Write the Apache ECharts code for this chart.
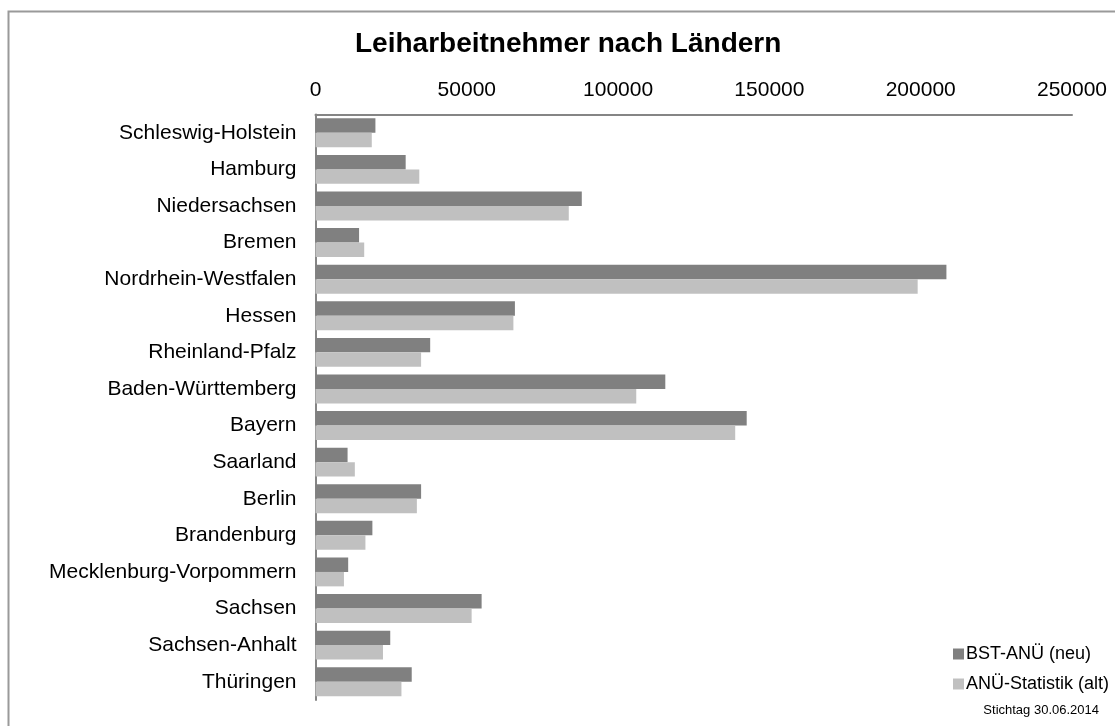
<!DOCTYPE html>
<html>
<head>
<meta charset="utf-8">
<script src="https://cdn.jsdelivr.net/npm/echarts@6/dist/echarts.min.js"></script>
<style>
html,body{margin:0;padding:0;background:#fff;}
#chart{width:1115px;height:726px;}
</style>
</head>
<body>
<div id="chart"></div>
<script>
const categories = ["Schleswig-Holstein","Hamburg","Niedersachsen","Bremen","Nordrhein-Westfalen","Hessen","Rheinland-Pfalz","Baden-Württemberg","Bayern","Saarland","Berlin","Brandenburg","Mecklenburg-Vorpommern","Sachsen","Sachsen-Anhalt","Thüringen"];
const bstNeu = [19800,29800,88000,14400,208500,65900,37900,115600,142500,10600,34900,18800,10800,54900,24700,31800];
const anueAlt = [18600,34300,83700,16100,199000,65400,34900,106000,138700,13000,33500,16500,9400,51600,22300,28400];
const xTicks = [0,50000,100000,150000,200000,250000];
const seriesNames = ["BST-ANÜ (neu)","ANÜ-Statistik (alt)"];
const titleText = "Leiharbeitnehmer nach Ländern";
const noteText = "Stichtag 30.06.2014";

const chart = echarts.init(document.getElementById('chart'), null, {renderer:'canvas'});
const font = 'Liberation Sans, Arial, sans-serif';
chart.setOption({
  animation:false,
  backgroundColor:'#ffffff',
  textStyle:{fontFamily:font},
  title:{text:titleText,left:350,top:25,itemGap:0,
    textStyle:{fontFamily:font,fontSize:28,fontWeight:'bold',color:'#000'}},
  legend:{orient:'vertical',left:948,top:640,itemWidth:11,itemHeight:11,itemGap:12,
    icon:'rect',
    textStyle:{fontFamily:font,fontSize:18,color:'#000',padding:[0,0,0,-3],lineHeight:18},
    data:seriesNames},
  grid:{left:315.5,right:43,top:114.5,bottom:26,containLabel:false},
  xAxis:{type:'value',position:'top',min:xTicks[0],max:xTicks[xTicks.length-1],interval:xTicks[1]-xTicks[0],
    axisLine:{show:true,lineStyle:{color:'#858585',width:2}},
    axisTick:{show:false},splitLine:{show:false},
    axisLabel:{fontFamily:font,fontSize:21,color:'#000',margin:14,formatter:function(v){return String(v);}}},
  yAxis:{type:'category',data:categories,inverse:true,
    axisLine:{show:true,lineStyle:{color:'#858585',width:2}},
    axisTick:{show:false},
    axisLabel:{fontFamily:font,fontSize:21,color:'#000',margin:19}},
  series:[
    {name:seriesNames[0],type:'bar',data:bstNeu,barGap:'0%',barCategoryGap:'21%',
      itemStyle:{color:'#808080'}},
    {name:seriesNames[1],type:'bar',data:anueAlt,barGap:'0%',barCategoryGap:'21%',
      itemStyle:{color:'#c0c0c0'}}
  ],
  graphic:[
    {type:'rect',left:6,top:9,shape:{width:1120,height:730},
      style:{fill:'none',stroke:'#9a9a9a',lineWidth:2},silent:true},
    {type:'text',right:16,top:704,style:{text:noteText,fontFamily:font,fontSize:13,fill:'#000'}}
  ]
});
</script>
</body>
</html>
